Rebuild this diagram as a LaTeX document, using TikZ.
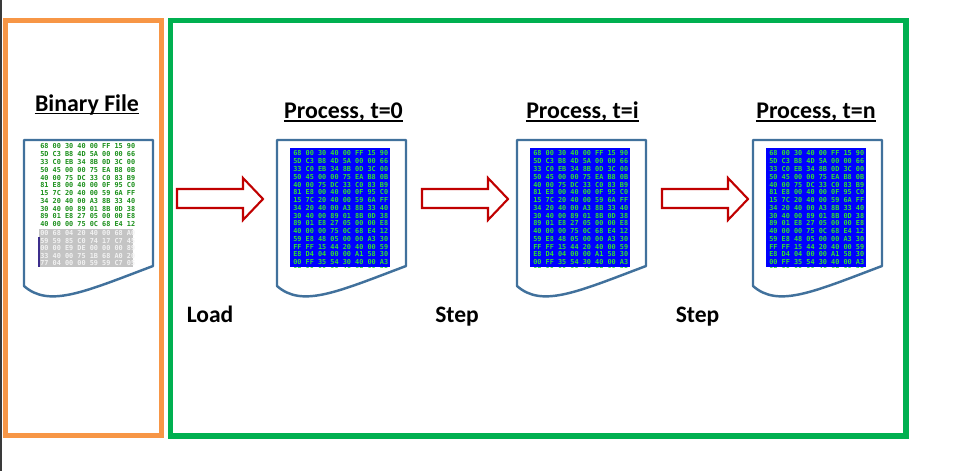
\documentclass[tikz,border=0pt]{standalone}
\usepackage{fontspec}
\setmainfont{Carlito}
\newfontfamily\hexfont{DejaVu Sans Mono}
\usepackage{tikz}
\usetikzlibrary{calc}
\definecolor{orangex}{HTML}{F79646}
\definecolor{greenx}{HTML}{00B050}
\definecolor{docblue}{HTML}{41719C}
\definecolor{redx}{HTML}{C00000}
\definecolor{hexgreen}{HTML}{1A8F1A}
\definecolor{hexlime}{HTML}{30E030}
\definecolor{selgray}{HTML}{C4C4C4}
\definecolor{seltext}{HTML}{F2F2F2}
\definecolor{selline}{HTML}{3C2E8C}
\definecolor{edgegray}{HTML}{3A3A3A}
\newcommand\hexA{68 00 30 40 00 FF 15 90\\5D C3 B8 4D 5A 00 00 66\\33 C0 EB 34 8B 0D 3C 00\\50 45 00 00 75 EA B8 0B\\40 00 75 DC 33 C0 83 B9\\81 E8 00 40 00 0F 95 C0\\15 7C 20 40 00 59 6A FF\\34 20 40 00 A3 8B 33 40\\30 40 00 89 01 8B 0D 38\\89 01 E8 27 05 00 00 E8\\40 00 00 75 0C 68 E4 12}
\newcommand\hexSel{00 68 04 20 40 00 68 A0\\59 59 85 C0 74 17 C7 45\\00 00 E9 DE 00 00 00 89\\33 40 00 75 1B 68 A0 20\\77 04 00 00 59 59 C7 05}
\newcommand\hexB{\hexA\\59 E8 48 05 00 00 A3 30\\FF FF 15 44 20 40 00 59\\E8 D4 04 00 00 A1 58 30\\00 FF 35 54 30 40 00 A3\\0F 00 00 00 4C 6F 00 35}
\tikzset{
  frame/.style={line width=3.1pt},
  doc/.style={draw=docblue,line width=1.4pt,fill=white,line join=round},
  hex/.style={font=\hexfont\bfseries\fontsize{3.9}{4.42}\selectfont,align=left,inner sep=0pt,anchor=north west},
  head/.style={font=\bfseries\fontsize{13.6}{15}\selectfont,inner sep=0pt,anchor=base},
  lbl/.style={font=\bfseries\fontsize{13.4}{15}\selectfont,inner sep=0pt,anchor=base},
  blk/.style={draw=redx,line width=1.2pt,fill=white,line join=miter}
}
\begin{document}
\begin{tikzpicture}[x=0.02cm,y=-0.02cm]
\useasboundingbox (0,0) rectangle (961,471);
\fill[edgegray] (0,0) rectangle (2,471);
\draw[frame,orangex] (5.5,20.5) rectangle (161.5,435.5);
\draw[frame,greenx] (170.5,20.5) rectangle (906,436);
\foreach \x in {24,277,517,753}
  \draw[doc] (\x,140) -- (\x+129,140) -- (\x+129,266) .. controls (\x+60,292) and (\x+25,308) .. (\x,286) -- cycle;
\node[head] (bin) at (87,111) {Binary File};
\draw[line width=1.1pt] ($(bin.base west)+(0,2.5)$) -- ($(bin.base east)+(0,2.5)$);
\fill[selgray] (39,229) rectangle (133,267);
\draw[selline,line width=0.6pt] (39,237) -- (39,267);
\node[hex,text=hexgreen] (bintxt) at (40,143.5) {\hexA};
\node[hex,text=seltext,font=\hexfont\bfseries\fontsize{3.9}{4.25}\selectfont] (selTxt) at (40,230.5) {\hexSel};
\foreach \x/\c/\t in {277/343.5/0,517/582.5/i,753/816/n}{
  \node[head] (h\t) at (\c,118) {Process, t=\t};
  \draw[line width=1.1pt] ($(h\t.base west)+(0,3)$) -- ($(h\t.base east)+(0,3)$);
  \fill[blue] (\x+13,148) rectangle (\x+113,267);
  \begin{scope}
    \clip (\x+13,148) rectangle (\x+113,267);
    \node[hex,text=hexlime] (p\t) at (\x+16,150.5) {\hexB};
  \end{scope}
}
\foreach \x in {177,422,662}
  \draw[blk] (\x,189) -- (\x+66,189) -- (\x+66,178) -- (\x+86,199) -- (\x+66,220) -- (\x+66,208) -- (\x,208) -- cycle;
\node[lbl] (load) at (210,322) {Load};
\node[lbl] (stepA) at (457,322) {Step};
\node[lbl] (stepB) at (697.5,322) {Step};
\end{tikzpicture}
\end{document}
